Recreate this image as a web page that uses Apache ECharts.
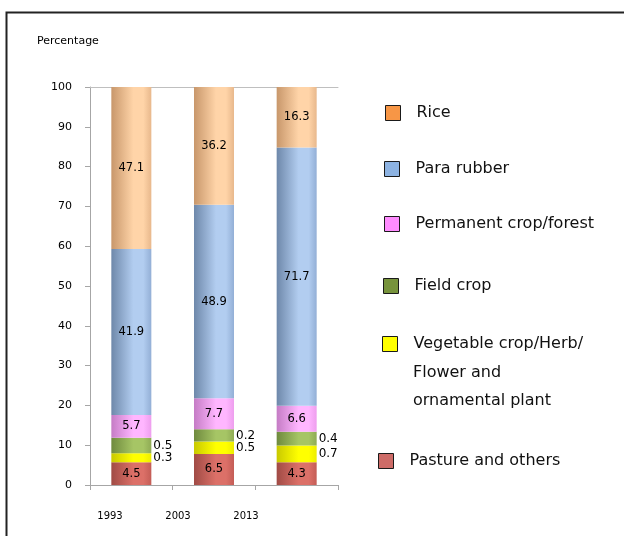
<!DOCTYPE html>
<html>
<head>
<meta charset="utf-8">
<script src="https://cdn.jsdelivr.net/npm/echarts@6/dist/echarts.min.js"></script>
<style>
  html,body{margin:0;padding:0;background:#fff;}
  #main{width:624px;height:536px;}
</style>
</head>
<body>
<div id="main"></div>
<script>
// categories
const years = ['1993', '2003', '2013']
// segment heights as drawn in the picture (bottom -> top)
const pasture = [5.7, 7.8, 5.7]
const vegetable = [2.3, 3.1, 4.2]
const field = [3.9, 3.1, 3.5]
const permanent = [5.7, 7.8, 6.5]
const rubber = [41.7, 48.6, 64.9]
const rice = [40.7, 29.6, 15.2]
// printed value labels
const pastureLbl = ['4.5', '6.5', '4.3']
const vegetableLbl = ['0.3', '0.5', '0.7']
const fieldLbl = ['0.5', '0.2', '0.4']
const permanentLbl = ['5.7', '7.7', '6.6']
const rubberLbl = ['41.9', '48.9', '71.7']
const riceLbl = ['47.1', '36.2', '16.3']
const yTicks = [0, 10, 20, 30, 40, 50, 60, 70, 80, 90, 100]

const FONT = 'DejaVu Sans'

function grad(c) {
  return {
    type: 'linear', x: 0, y: 0, x2: 1, y2: 0,
    colorStops: [
      {offset: 0, color: c[0]},
      {offset: 0.55, color: c[1]},
      {offset: 0.8, color: c[1]},
      {offset: 1, color: c[2]}
    ]
  }
}

const defs = [
  {name: 'Pasture and others', data: pasture, lbl: pastureLbl, pos: 'inside', bar: ['#A04B45', '#DC7068', '#C45D56'], icon: '#CD6B67', left: 373, top: 448},
  {name: 'Vegetable crop/Herb/', data: vegetable, lbl: vegetableLbl, pos: 'right', bar: ['#C9C900', '#FFFF00', '#EDED00'], icon: '#FFFF00', left: 377, top: 331},
  {name: 'Field crop', data: field, lbl: fieldLbl, pos: 'right', bar: ['#6F8A3E', '#A6C565', '#8FAB55'], icon: '#77933C', left: 378, top: 273},
  {name: 'Permanent crop/forest', data: permanent, lbl: permanentLbl, pos: 'inside', bar: ['#C57CC5', '#FFB6FF', '#EE9EEE'], icon: '#FF8CFF', left: 379, top: 211},
  {name: 'Para rubber', data: rubber, lbl: rubberLbl, pos: 'inside', bar: ['#6E88AA', '#B2CDF0', '#93AFD6'], icon: '#8DB3E2', left: 379, top: 156},
  {name: 'Rice', data: rice, lbl: riceLbl, pos: 'inside', bar: ['#C8976B', '#FFD4A8', '#E8B88C'], icon: '#F79646', left: 380, top: 100}
]

const series = defs.map(function (d) {
  return {
    name: d.name,
    type: 'bar',
    stack: 'all',
    barWidth: 40,
    xAxisIndex: 0,
    yAxisIndex: 0,
    data: d.data,
    itemStyle: {color: grad(d.bar)},
    label: {
      show: true,
      position: d.pos,
      distance: 2,
      color: '#000',
      fontFamily: FONT,
      fontSize: d.pos == 'right' ? 12 : 11.5,
      formatter: function (p) { return d.lbl[p.dataIndex] }
    },
    emphasis: {disabled: true}
  }
})

// one legend per item, they are spread irregularly in the picture
const legends = defs.map(function (d) {
  return {
    left: d.left,
    top: d.top,
    orient: 'vertical',
    selectedMode: false,
    itemWidth: 15,
    itemHeight: 15,
    icon: 'rect',
    data: [{name: d.name, itemStyle: {color: d.icon, borderColor: '#1a1a1a', borderWidth: 1}}],
    textStyle: {fontFamily: FONT, fontSize: 16, color: '#111', padding: [0, 0, 0, 11]}
  }
})

const myChart = echarts.init(document.getElementById('main'), null, {renderer: 'canvas'})
myChart.setOption({
  backgroundColor: '#fff',
  animation: false,
  legend: legends,
  grid: [
    {left: 90, top: 87, right: 286, bottom: 51},
    // second grid only carries the year labels (they sit left of the bars)
    {left: 76, top: 87, width: 204, bottom: 51}
  ],
  xAxis: [
    {
      type: 'category', gridIndex: 0, data: years,
      axisLine: {lineStyle: {color: '#A6A6A6'}},
      axisTick: {show: true, length: 5, lineStyle: {color: '#A6A6A6'}},
      axisLabel: {show: false}
    },
    {
      // top border line of the plot area
      type: 'category', gridIndex: 0, position: 'top', data: years,
      axisLine: {show: true, lineStyle: {color: '#BFBFBF'}},
      axisTick: {show: false},
      axisLabel: {show: false}
    },
    {
      type: 'category', gridIndex: 1, data: years,
      axisLine: {show: false},
      axisTick: {show: false},
      axisLabel: {margin: 26, color: '#000', fontFamily: FONT, fontSize: 10}
    }
  ],
  yAxis: [
    {
      type: 'value', gridIndex: 0, min: 0, max: 100, interval: 10,
      axisLine: {show: true, lineStyle: {color: '#A6A6A6'}},
      axisTick: {show: true, length: 5, lineStyle: {color: '#A6A6A6'}},
      splitLine: {show: false},
      axisLabel: {
        margin: 18, color: '#000', fontFamily: FONT, fontSize: 11,
        formatter: function (v) { return yTicks.indexOf(v) >= 0 ? String(v) : '' }
      }
    },
    {type: 'value', gridIndex: 1, show: false, min: 0, max: 100}
  ],
  series: series,
  graphic: [
    {type: 'rect', left: 4, top: 10, shape: {width: 700, height: 600}, style: {fill: 'none', stroke: '#222', lineWidth: 2}, silent: true},
    {type: 'text', left: 37, top: 36, style: {text: 'Percentage', font: '11px "DejaVu Sans"', fill: '#000'}},
    {type: 'text', left: 413, top: 365, style: {text: 'Flower and', font: '16px "DejaVu Sans"', fill: '#111'}},
    {type: 'text', left: 413, top: 393, style: {text: 'ornamental plant', font: '16px "DejaVu Sans"', fill: '#111'}}
  ]
})
</script>
</body>
</html>
